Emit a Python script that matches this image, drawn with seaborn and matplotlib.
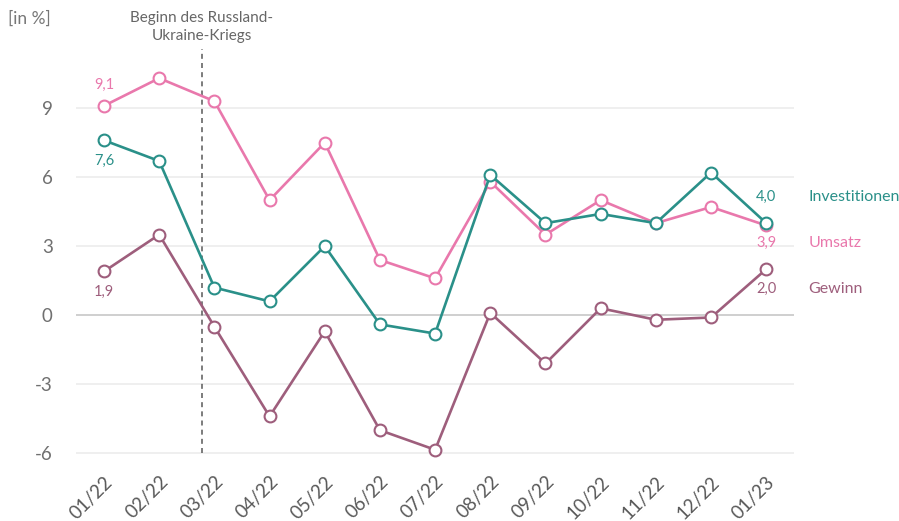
import pandas as pd
import matplotlib.pyplot as plt
import seaborn as sns

# Data
months = ["01/22", "02/22", "03/22", "04/22", "05/22", "06/22", "07/22",
          "08/22", "09/22", "10/22", "11/22", "12/22", "01/23"]
umsatz = [9.1, 10.3, 9.3, 5.0, 7.5, 2.4, 1.6, 5.8, 3.5, 5.0, 4.0, 4.7, 3.9]
investitionen = [7.6, 6.7, 1.2, 0.6, 3.0, -0.4, -0.8, 6.1, 4.0, 4.4, 4.0, 6.2, 4.0]
gewinn = [1.9, 3.5, -0.5, -4.4, -0.7, -5.0, -5.85, 0.1, -2.1, 0.3, -0.2, -0.1, 2.0]
yticks = [-6, -3, 0, 3, 6, 9]
war_start = 1.77  # position between 02/22 and 03/22

colors = {"Umsatz": "#E978AC", "Investitionen": "#2A9089", "Gewinn": "#9E5E7C"}
series = {"Gewinn": gewinn, "Umsatz": umsatz, "Investitionen": investitionen}

sns.set_style("white")
plt.rcParams["font.family"] = ["Lato", "DejaVu Sans"]

fig = plt.figure(figsize=(8.99, 5.21), dpi=100)
ax = fig.add_axes([0.085, 0.108, 0.798, 0.817])

# gridlines
for t in yticks:
    if t == 0:
        ax.axhline(t, color="#cccccc", lw=1.3, zorder=1)
    else:
        ax.axhline(t, color="#eeeeee", lw=1.3, zorder=1)

# dashed marker for war start
ax.plot([war_start, war_start], [-6, 11.55], color="#666666", lw=1.2,
        ls=(0, (3, 2.5)), zorder=2)
ax.text(war_start, 11.85, "Beginn des Russland-\nUkraine-Kriegs", ha="center",
        va="bottom", fontsize=11, color="#666666", linespacing=1.35)

x = list(range(len(months)))
for name, vals in series.items():
    c = colors[name]
    df = pd.DataFrame({"x": x, "y": vals})
    sns.lineplot(data=df, x="x", y="y", ax=ax, color=c, lw=1.9, marker="o",
                 markersize=8.5, markerfacecolor="white", markeredgecolor=c,
                 markeredgewidth=1.5, zorder=3)

# value labels at the start
fs_val = 10.5
ax.annotate(f"{umsatz[0]:.1f}".replace(".", ","), (0, umsatz[0]), xytext=(0, 10),
            textcoords="offset points", ha="center", va="bottom",
            fontsize=fs_val, color=colors["Umsatz"])
ax.annotate(f"{investitionen[0]:.1f}".replace(".", ","), (0, investitionen[0]),
            xytext=(0, -10), textcoords="offset points", ha="center", va="top",
            fontsize=fs_val, color=colors["Investitionen"])
ax.annotate(f"{gewinn[0]:.1f}".replace(".", ","), (0, gewinn[0]), xytext=(0, -10),
            textcoords="offset points", ha="center", va="top",
            fontsize=fs_val, color=colors["Gewinn"])

# end labels: value + series name
last = len(months) - 1
end_pos = {"Investitionen": 5.13, "Umsatz": 3.13, "Gewinn": 1.13}
for name, ypos in end_pos.items():
    v = series[name][-1]
    ax.text(last, ypos, f"{v:.1f}".replace(".", ","), ha="center", va="center",
            fontsize=fs_val, color=colors[name])
    ax.text(last + 0.76, ypos, name, ha="left", va="center", fontsize=11.5,
            color=colors[name], clip_on=False)

ax.set_xlim(-0.5, 12.5)
ax.set_ylim(-6.5, 12)
ax.set_yticks(yticks)
ax.set_yticklabels([str(t) for t in yticks])
ax.set_xticks(x)
ax.set_xticklabels(months, rotation=45, ha="right", rotation_mode="anchor")
ax.tick_params(axis="y", length=0, pad=17, labelsize=13.5, labelcolor="#707070")
ax.tick_params(axis="x", length=0, pad=6, labelsize=13.5, labelcolor="#595959")
ax.set_xlabel("")
ax.set_ylabel("")
for s in ax.spines.values():
    s.set_visible(False)

fig.text(0.009, 0.965, "[in %]", ha="left", va="center", fontsize=12.5,
         color="#777777")

fig.savefig("out.png", dpi=100)
